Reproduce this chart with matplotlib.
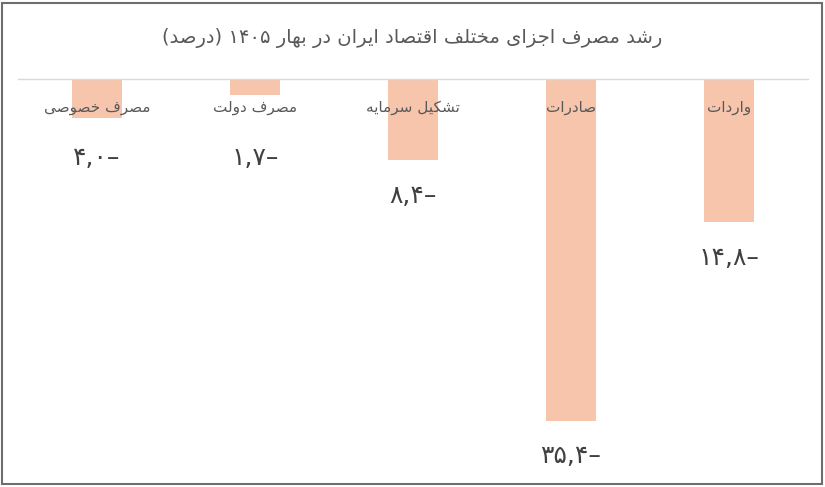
import matplotlib
matplotlib.use('Agg')
import matplotlib.pyplot as plt
from matplotlib.patches import Rectangle

plt.rcParams['font.family'] = ['DejaVu Sans']

title = 'رشد مصرف اجزای مختلف اقتصاد ایران در بهار ۱۴۰۵ (درصد)'
categories = ['مصرف خصوصی', 'مصرف دولت', 'تشکیل سرمایه', 'صادرات', 'واردات']
values = [-4.0, -1.7, -8.4, -35.4, -14.8]

bar_color = '#F6C5AC'
text_color = '#595959'

# presentation forms: isolated, final, initial, medial
FORMS = {
    'ا': (0xFE8D, 0xFE8E), 'آ': (0xFE81, 0xFE82),
    'د': (0xFEA9, 0xFEAA), 'ذ': (0xFEAB, 0xFEAC),
    'ر': (0xFEAD, 0xFEAE), 'ز': (0xFEAF, 0xFEB0),
    'ژ': (0xFB8A, 0xFB8B), 'و': (0xFEED, 0xFEEE),
    'ب': (0xFE8F, 0xFE90, 0xFE91, 0xFE92), 'پ': (0xFB56, 0xFB57, 0xFB58, 0xFB59),
    'ت': (0xFE95, 0xFE96, 0xFE97, 0xFE98), 'ث': (0xFE99, 0xFE9A, 0xFE9B, 0xFE9C),
    'ج': (0xFE9D, 0xFE9E, 0xFE9F, 0xFEA0), 'چ': (0xFB7A, 0xFB7B, 0xFB7C, 0xFB7D),
    'ح': (0xFEA1, 0xFEA2, 0xFEA3, 0xFEA4), 'خ': (0xFEA5, 0xFEA6, 0xFEA7, 0xFEA8),
    'س': (0xFEB1, 0xFEB2, 0xFEB3, 0xFEB4), 'ش': (0xFEB5, 0xFEB6, 0xFEB7, 0xFEB8),
    'ص': (0xFEB9, 0xFEBA, 0xFEBB, 0xFEBC), 'ض': (0xFEBD, 0xFEBE, 0xFEBF, 0xFEC0),
    'ط': (0xFEC1, 0xFEC2, 0xFEC3, 0xFEC4), 'ظ': (0xFEC5, 0xFEC6, 0xFEC7, 0xFEC8),
    'ع': (0xFEC9, 0xFECA, 0xFECB, 0xFECC), 'غ': (0xFECD, 0xFECE, 0xFECF, 0xFED0),
    'ف': (0xFED1, 0xFED2, 0xFED3, 0xFED4), 'ق': (0xFED5, 0xFED6, 0xFED7, 0xFED8),
    'ک': (0xFB8E, 0xFB8F, 0xFB90, 0xFB91), 'گ': (0xFB92, 0xFB93, 0xFB94, 0xFB95),
    'ل': (0xFEDD, 0xFEDE, 0xFEDF, 0xFEE0), 'م': (0xFEE1, 0xFEE2, 0xFEE3, 0xFEE4),
    'ن': (0xFEE5, 0xFEE6, 0xFEE7, 0xFEE8), 'ه': (0xFEE9, 0xFEEA, 0xFEEB, 0xFEEC),
    'ی': (0xFBFC, 0xFBFD, 0xFBFE, 0xFBFF),
}
MIRROR = {'(': ')', ')': '(', '[': ']', ']': '['}
DIGITS = set('۰۱۲۳۴۵۶۷۸۹0123456789,.')


def shape(text):
    out = []
    for i, ch in enumerate(text):
        if ch not in FORMS:
            out.append(ch)
            continue
        prev = text[i - 1] if i > 0 else ''
        nxt = text[i + 1] if i + 1 < len(text) else ''
        join_prev = prev in FORMS and len(FORMS[prev]) == 4
        join_next = nxt in FORMS and len(FORMS[ch]) == 4
        f = FORMS[ch]
        if join_prev and join_next:
            out.append(chr(f[3]))
        elif join_prev:
            out.append(chr(f[1]))
        elif join_next:
            out.append(chr(f[2]))
        else:
            out.append(chr(f[0]))
    return ''.join(out)


def rtl(text):
    # shape, then reverse for left-to-right drawing, keeping digit runs as they are
    s = shape(text)
    runs, cur, cur_digit = [], '', None
    for ch in s:
        d = ch in DIGITS
        if cur and d != cur_digit:
            runs.append((cur, cur_digit))
            cur = ''
        cur += ch
        cur_digit = d
    if cur:
        runs.append((cur, cur_digit))
    res = ''
    for run, is_digit in reversed(runs):
        if is_digit:
            res += run
        else:
            res += ''.join(MIRROR.get(c, c) for c in reversed(run))
    return res


def fa_num(v):
    s = f'{abs(v):.1f}'.replace('.', ',')
    s = s.translate(str.maketrans('0123456789', '۰۱۲۳۴۵۶۷۸۹'))
    return s + ('–' if v < 0 else '')


fig = plt.figure(figsize=(8.25, 4.87), dpi=100)
fig.patches.append(Rectangle((1.5 / 825, 3 / 487), 820 / 825, 481 / 487,
                             transform=fig.transFigure, fill=False,
                             edgecolor='#6e6e6e', linewidth=1.5))

ax = fig.add_axes([18 / 825, 1 - 465 / 487, 790 / 825, 386 / 487])
x = list(range(len(categories)))
ax.bar(x, values, width=0.315, color=bar_color, zorder=2)
ax.set_xlim(-0.5, len(categories) - 0.5)
ax.set_ylim(-40, 0)
for s in ['left', 'right', 'bottom']:
    ax.spines[s].set_visible(False)
ax.spines['top'].set_color('#d9d9d9')
ax.spines['top'].set_linewidth(1.0)
ax.set_xticks([])
ax.set_yticks([])

for i, (cat, v) in enumerate(zip(categories, values)):
    ax.text(i, -3.0, rtl(cat), ha='center', va='center', fontsize=11,
            color=text_color, zorder=3)
    ly = min(v, -4.5) - 3.7
    ax.text(i, ly, fa_num(v), ha='center', va='center', fontsize=18,
            color='#404040', zorder=3)

fig.text(0.5, 1 - 38 / 487, rtl(title), ha='center', va='center',
         fontsize=14, color=text_color)

fig.savefig('out.png', dpi=100)
